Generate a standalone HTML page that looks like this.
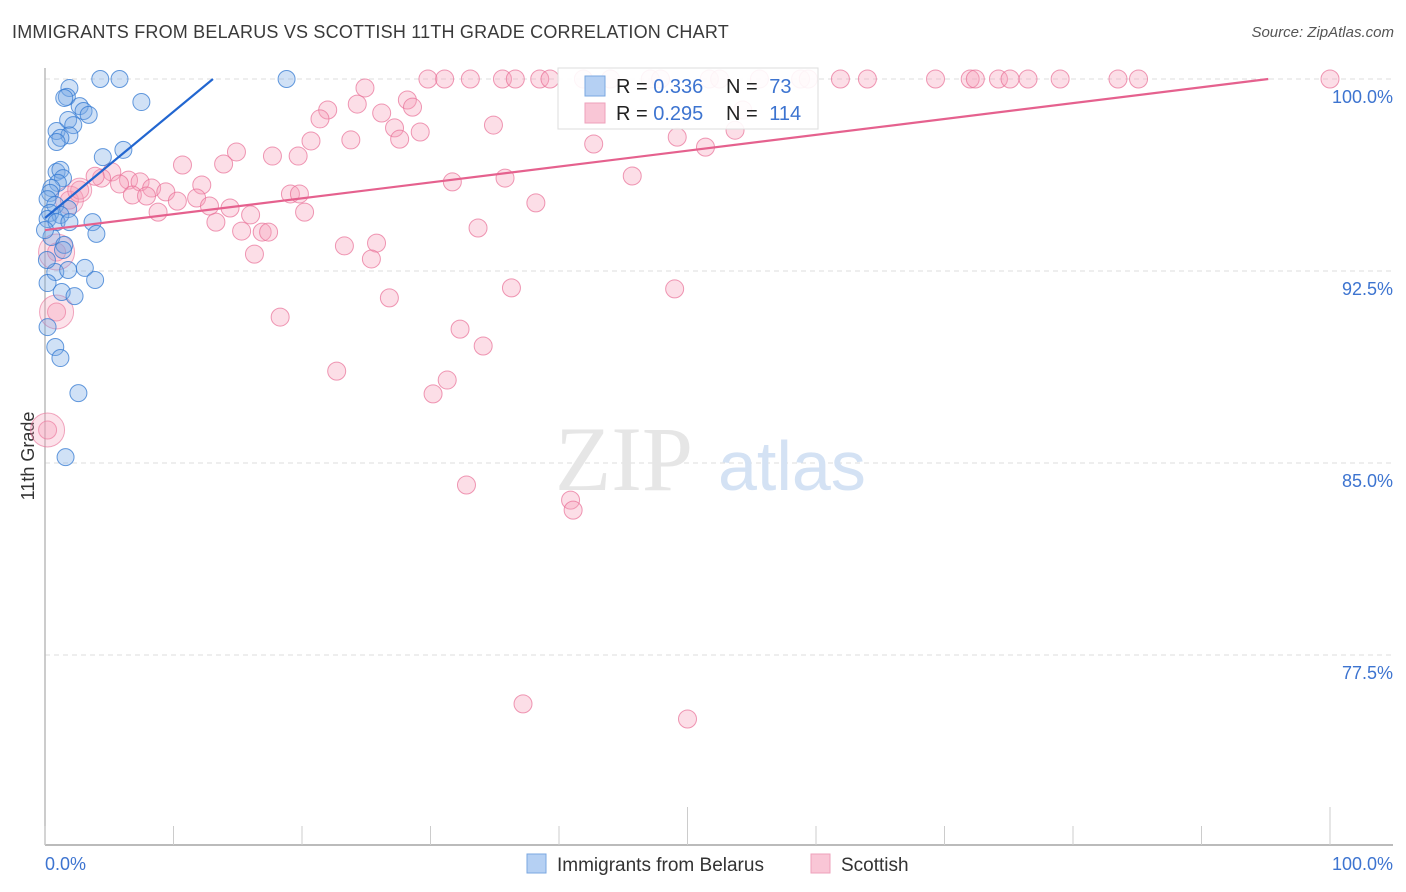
<!DOCTYPE html>
<html><head><meta charset="utf-8"><style>
body{margin:0;background:#fff;font-family:"Liberation Sans",sans-serif;}
#wrap{position:relative;width:1406px;height:892px;overflow:hidden;}
.title{position:absolute;left:12px;top:22px;font-size:18px;color:#3a3a3a;letter-spacing:0.2px;}
.src{position:absolute;right:12px;top:24px;font-size:15px;color:#555;font-style:italic;}
</style></head><body>
<div id="wrap">
<div class="title">IMMIGRANTS FROM BELARUS VS SCOTTISH 11TH GRADE CORRELATION CHART</div>
<div class="src">Source: ZipAtlas.com</div>
<svg id="svg" width="1406" height="892" style="position:absolute;left:0;top:0"></svg>
</div>
<script>
const yTicks=[100,92.5,85,77.5];
const yTickLabels=["100.0%","92.5%","85.0%","77.5%"];
const xTickLabels=["0.0%","100.0%"];
const blueX=[4.3,5.8,18.8,1.9,1.7,1.5,7.5,2.7,3.0,3.4,1.8,2.2,0.9,1.9,1.2,0.9,4.5,6.1,0.9,1.2,1.4,1.0,0.5,0.4,0.2,0.8,1.8,0.4,1.2,0.2,0.9,3.7,1.9,4.0,0.5,1.5,1.4,0.8,1.8,3.1,3.9,0.2,1.3,2.3,0.2,0.8,1.2,2.6,1.6,0,0.15];
const blueY=[100,100,100,99.65,99.3,99.26,99.1,98.94,98.75,98.6,98.4,98.2,97.97,97.8,97.7,97.54,96.95,97.23,96.37,96.45,96.13,95.94,95.74,95.55,95.31,95.08,94.92,94.77,94.69,94.53,94.41,94.41,94.41,93.95,93.83,93.52,93.32,92.46,92.54,92.62,92.15,92.03,91.68,91.52,90.31,89.53,89.1,87.73,85.23,94.1,92.93];
const pinkX=[29.8,31.1,33.1,35.6,36.6,38.5,39.3,41.9,44.0,47.1,47.9,51.7,52.5,55.6,58.8,59.4,61.9,64.0,69.3,72.0,72.4,74.2,75.1,76.5,79.0,83.5,85.1,100,
24.9,28.2,28.6,24.3,22.0,21.4,26.2,34.9,27.2,29.2,23.8,20.7,27.6,53.7,54.3,49.2,51.4,42.7,14.9,17.7,19.7,10.7,13.9,5.2,4.4,3.9,6.5,7.4,8.3,5.8,9.4,12.2,6.8,7.9,10.3,11.8,12.8,14.4,16.0,8.8,19.1,19.8,20.2,13.3,15.3,16.9,17.4,31.7,35.8,45.7,38.2,33.7,23.3,25.8,25.4,16.3,26.8,18.3,36.3,49.0,32.3,34.1,22.7,31.3,30.2,32.8,40.9,41.1,37.2,50.0,1.9,2.7,0.9,0.9,0.2];
const pinkY=[100,100,100,100,100,100,100,100,100,100,100,100,100,100,100,100,100,100,100,100,100,100,100,100,100,100,100,100,
99.65,99.18,98.9,99.02,98.79,98.44,98.67,98.2,98.09,97.93,97.62,97.58,97.65,98.0,98.79,97.73,97.34,97.46,97.15,96.99,96.99,96.64,96.68,96.37,96.13,96.2,96.05,95.98,95.74,95.9,95.59,95.86,95.47,95.43,95.23,95.35,95.04,94.96,94.69,94.8,95.51,95.51,94.8,94.41,94.06,94.02,94.02,95.98,96.13,96.21,95.16,94.18,93.48,93.59,92.97,93.16,91.45,90.7,91.84,91.8,90.23,89.57,88.59,88.24,87.7,84.14,83.55,83.16,75.59,75.0,95.27,95.66,93.24,90.9,86.29];
const pinkBig=[[1.9,95.27,14],[2.7,95.66,12],[0.9,93.24,18],[0.9,90.9,17],[0.2,86.29,17]];
const blueTrend=[[0,94.57],[13.07,100]];
const pinkTrend=[[0,94.1],[95.2,100]];
const X0=45,X1=1330,Y100=79,PXPER=192/7.5;
const sx=v=>X0+(X1-X0)*v/100;
const sy=v=>Y100+(100-v)*PXPER;
const svg=document.getElementById('svg');
const NS='http://www.w3.org/2000/svg';
function mk(tag,attrs,parent){const e=document.createElementNS(NS,tag);for(const k in attrs)e.setAttribute(k,attrs[k]);(parent||svg).appendChild(e);return e;}
// gridlines
yTicks.forEach((t,i)=>{
  const g=mk('line',{x1:45,x2:1393,y1:sy(t),y2:sy(t),stroke:'#ddd','stroke-dasharray':'5,4'});
  
  
  const tx=mk('text',{x:1393,y:sy(t)+24,'text-anchor':'end','font-size':'18',fill:'#3d74d0','font-family':'Liberation Sans,sans-serif'});
  tx.textContent=yTickLabels[i];
  
  
});
// watermark
const wm=mk('text',{x:555,y:490,'font-size':'92','font-family':'Liberation Serif,serif',fill:'#e6e6e6'});wm.textContent='ZIP';


const wm2=mk('text',{x:718,y:490,'font-size':'70','font-family':'Liberation Sans,sans-serif',fill:'#d4e2f4'});wm2.textContent='atlas';


// axes
const ax=mk('line',{x1:45,x2:1393,y1:845,y2:845,stroke:'#bbb','stroke-width':2});


const ay=mk('line',{x1:45,x2:45,y1:68,y2:845,stroke:'#bbb','stroke-width':1.5});


for(let i=0;i<=10;i++){const x=sx(i*10);const t=mk('line',{x1:x,x2:x,y1:(i==5||i==10)?807:826,y2:845,stroke:'#ccc'});

}
[[0,'start',45],[100,'end',1393]].forEach((d,i)=>{const t=mk('text',{x:d[2],y:870,'text-anchor':d[1],'font-size':'18',fill:'#3d74d0','font-family':'Liberation Sans,sans-serif'});t.textContent=xTickLabels[i];

});
const yt=mk('text',{x:34,y:456,'text-anchor':'middle','font-size':'18',fill:'#333',transform:'rotate(-90 34 456)','font-family':'Liberation Sans,sans-serif'});yt.textContent='11th Grade';


// points
pinkX.forEach((x,i)=>{const c=mk('circle',{cx:sx(x),cy:sy(pinkY[i]),r:9,fill:'rgba(246,160,186,0.35)',stroke:'rgba(232,110,150,0.7)','stroke-width':1});

});
pinkBig.forEach(p=>{const c=mk('circle',{cx:sx(p[0]),cy:sy(p[1]),r:p[2],fill:'rgba(246,160,186,0.3)',stroke:'rgba(232,110,150,0.6)'});

});
blueX.forEach((x,i)=>{const c=mk('circle',{cx:sx(x),cy:sy(blueY[i]),r:8.5,fill:'rgba(120,170,230,0.35)',stroke:'rgba(50,120,210,0.75)','stroke-width':1});

});
const bl=mk('line',{x1:sx(blueTrend[0][0]),y1:sy(blueTrend[0][1]),x2:sx(blueTrend[1][0]),y2:sy(blueTrend[1][1]),stroke:'#2266d0','stroke-width':2.2});


const pl=mk('line',{x1:sx(pinkTrend[0][0]),y1:sy(pinkTrend[0][1]),x2:sx(pinkTrend[1][0]),y2:sy(pinkTrend[1][1]),stroke:'#e5618e','stroke-width':2.2});


// legend box
const lg=mk('g',{});


mk('rect',{x:558,y:68,width:260,height:61,fill:'rgba(255,255,255,0.9)',stroke:'#ddd'},lg);
mk('rect',{x:585,y:76,width:20,height:20,fill:'#b5d0f3',stroke:'#7aa7e0'},lg);
mk('rect',{x:585,y:103,width:20,height:20,fill:'#f9c6d6',stroke:'#eea0bb'},lg);
[[93,'0.336','73'],[120,'0.295','114']].forEach(r=>{
 const t=mk('text',{x:616,y:r[0],'font-size':'20','font-family':'Liberation Sans,sans-serif',fill:'#222'},lg);
 t.innerHTML='R = <tspan fill="#3d74d0">'+r[1]+'</tspan>';
 const n=mk('text',{x:726,y:r[0],'font-size':'20','font-family':'Liberation Sans,sans-serif',fill:'#222'},lg);
 n.innerHTML='N = <tspan fill="#3d74d0" dx="6">'+r[2]+'</tspan>';
});
// bottom legend
const bl2=mk('g',{});


mk('rect',{x:527,y:854,width:19,height:19,fill:'#b5d0f3',stroke:'#7aa7e0'},bl2);
const l1=mk('text',{x:557,y:871,'font-size':'19','font-family':'Liberation Sans,sans-serif',fill:'#333'},bl2);l1.textContent='Immigrants from Belarus';
mk('rect',{x:811,y:854,width:19,height:19,fill:'#f9c6d6',stroke:'#eea0bb'},bl2);
const l2=mk('text',{x:841,y:871,'font-size':'19','font-family':'Liberation Sans,sans-serif',fill:'#333'},bl2);l2.textContent='Scottish';
</script>
</body></html>
